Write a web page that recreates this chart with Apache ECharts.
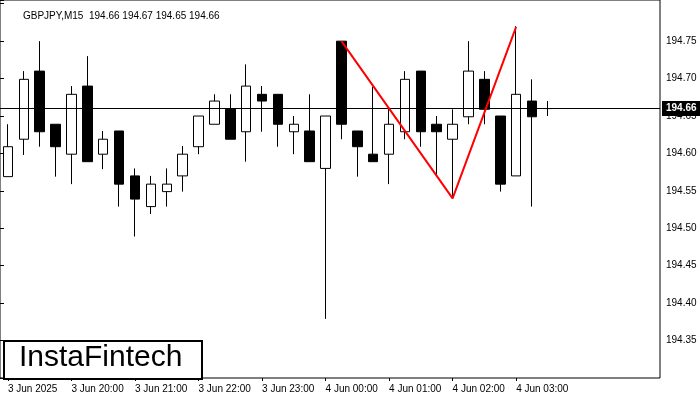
<!DOCTYPE html>
<html><head><meta charset="utf-8">
<script src="https://cdn.jsdelivr.net/npm/echarts@6/dist/echarts.min.js"></script>
<style>html,body{margin:0;padding:0;background:#fff}#c{width:700px;height:400px}</style>
</head><body><div id="c"></div>
<script>
// candle order: [open, close, low, high]
const opens  = [194.569,194.619,194.710,194.639,194.599,194.690,194.599,194.630,194.570,194.529,194.549,194.570,194.609,194.639,194.659,194.629,194.679,194.679,194.629,194.630,194.580,194.750,194.630,194.599,194.599,194.629,194.710,194.639,194.619,194.649,194.699,194.650,194.570,194.670,194.660];
const closes = [194.609,194.699,194.629,194.609,194.679,194.589,194.619,194.559,194.539,194.559,194.559,194.599,194.650,194.670,194.619,194.690,194.670,194.639,194.639,194.589,194.650,194.639,194.609,194.589,194.639,194.699,194.629,194.629,194.639,194.710,194.659,194.559,194.679,194.649,194.660];
const lows   = [194.569,194.598,194.609,194.569,194.559,194.589,194.579,194.529,194.489,194.519,194.529,194.549,194.599,194.639,194.619,194.589,194.629,194.609,194.599,194.589,194.379,194.619,194.569,194.589,194.559,194.619,194.609,194.569,194.540,194.639,194.639,194.549,194.570,194.529,194.650];
const highs  = [194.639,194.710,194.750,194.639,194.690,194.730,194.630,194.630,194.580,194.570,194.580,194.610,194.650,194.679,194.679,194.719,194.690,194.679,194.650,194.679,194.650,194.750,194.630,194.689,194.660,194.710,194.710,194.650,194.659,194.750,194.710,194.650,194.770,194.699,194.670];
const patternIdx = [21, 28, 32];
const patternVal = [194.750, 194.540, 194.769];
const currentPrice = 194.66;
const yTicks = [194.35,194.40,194.45,194.50,194.55,194.60,194.65,194.70,194.75];
const title = 'GBPJPY,M15  194.66 194.67 194.65 194.66';

const nSlots = 42;
const cats = [];
for (let i = 0; i < nSlots; i++) {
  const m = 19*60 + i*15;
  const h = Math.floor(m/60)%24, mm = m%60;
  const day = m >= 24*60 ? '4 Jun' : '3 Jun';
  cats.push(day + ' ' + String(h).padStart(2,'0') + ':' + String(mm).padStart(2,'0'));
}
const candleData = opens.map((o,i)=>[o, closes[i], lows[i], highs[i]]);
const font = 'Liberation Sans, Arial, sans-serif';
const chart = echarts.init(document.getElementById('c'));
chart.setOption({
  animation:false,
  title:{text:title,left:18,top:6,textStyle:{fontSize:10,fontWeight:'normal',color:'#000',fontFamily:font}},
  grid:[
    {left:-5,right:33,top:0,bottom:22},
    {left:0,right:40,top:0,bottom:22,show:true,borderColor:'#000',borderWidth:1,backgroundColor:'transparent'}
  ],
  xAxis:[
    {type:'category',gridIndex:0,data:cats,boundaryGap:true,
     axisLine:{show:false},
     axisTick:{show:true,interval:(i)=>i%4===0&&i<36,length:3,lineStyle:{color:'#000'},alignWithLabel:true},
     axisLabel:{interval:0,fontSize:10,color:'#000',fontFamily:font,align:'left',margin:6,
       formatter:(v,i)=> (i%4===0 && i<36) ? (i===0 ? '3 Jun 2025' : v) : ''}},
    {type:'value',gridIndex:1,show:false,min:0,max:1}
  ],
  yAxis:[
    {type:'value',gridIndex:0,min:194.30,max:194.805,show:false},
    {type:'value',gridIndex:1,position:'right',min:194.30,max:194.805,interval:0.05,
     axisLine:{show:false},splitLine:{show:false},
     axisTick:{show:true,length:4,lineStyle:{color:'#000'}},
     axisLabel:{fontSize:10,color:'#000',fontFamily:font,margin:6,
       formatter:v=> yTicks.some(t=>Math.abs(t-v)<1e-6) ? v.toFixed(2) : ''}}
  ],
  series:[
    {type:'candlestick',xAxisIndex:0,yAxisIndex:0,data:candleData,barWidth:10,
     itemStyle:{color:'#fff',color0:'#000',borderColor:'#000',borderColor0:'#000',borderWidth:1}},
    {type:'line',xAxisIndex:1,yAxisIndex:1,data:[],z:20,zlevel:1,
     markLine:{silent:true,symbol:'none',data:[{yAxis:currentPrice}],
       lineStyle:{color:'#000',width:1,type:'solid'},
       label:{show:true,position:'end',formatter:currentPrice.toFixed(2),backgroundColor:'#000',color:'#fff',
         fontSize:10,fontWeight:'bold',fontFamily:font,padding:[3,4,2,4],distance:2}}},
    {type:'line',xAxisIndex:0,yAxisIndex:0,data:patternIdx.map((x,i)=>[x,patternVal[i]]),
     symbol:'none',lineStyle:{color:'#ff0000',width:2},z:5}
  ],
  graphic:[
    {type:'rect',left:3,top:340,shape:{width:198,height:38},style:{fill:'#fff',stroke:'#000',lineWidth:2},z:10},
    {type:'text',left:19,top:343,style:{text:'InstaFintech',font:'500 30px '+font,fill:'#000'},z:11}
  ]
});
</script></body></html>
